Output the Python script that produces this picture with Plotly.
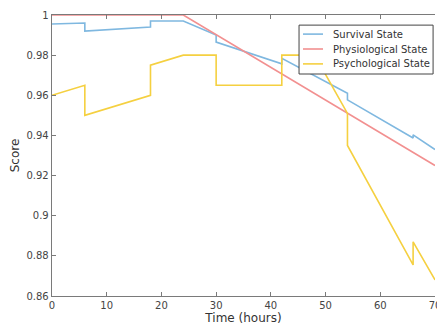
import plotly.graph_objects as go

# Data
t_survival = [0, 6, 6, 18, 18, 24, 30, 30, 42, 42, 54, 54, 66, 66, 70]
survival = [0.9955, 0.996, 0.992, 0.994, 0.997, 0.997, 0.990, 0.9865, 0.9757,
            0.9784, 0.961, 0.9577, 0.9387, 0.9403, 0.933]

t_physio = [0, 24, 70]
physio = [1.0, 1.0, 0.925]

t_psych = [0, 6, 6, 18, 18, 24, 30, 30, 42, 42, 48, 54, 54, 66, 66, 70]
psych = [0.96, 0.965, 0.95, 0.96, 0.975, 0.98, 0.98, 0.965, 0.965, 0.98,
         0.98, 0.951, 0.935, 0.8755, 0.887, 0.868]

x_ticks = [0, 10, 20, 30, 40, 50, 60, 70]
y_ticks = [0.86, 0.88, 0.90, 0.92, 0.94, 0.96, 0.98, 1.0]
y_ticktext = ["0.86", "0.88", "0.9", "0.92", "0.94", "0.96", "0.98", "1"]

series_names = ["Survival State", "Physiological State", "Psychological State"]
colors = ["#7fb8e0", "#f29090", "#f5d040"]

fig = go.Figure()
for t, v, name, c in zip([t_survival, t_physio, t_psych],
                         [survival, physio, psych], series_names, colors):
    fig.add_trace(go.Scatter(x=t, y=v, mode="lines", name=name,
                             line=dict(color=c, width=1.6), showlegend=False))

axis_common = dict(
    showgrid=False, zeroline=False, showline=True, linecolor="#7a7a7a",
    linewidth=1.3, ticks="inside", ticklen=4, tickcolor="#7a7a7a",
    automargin=False, ticklabeloverflow="allow",
    tickfont=dict(family="DejaVu Sans", size=10, color="#444"),
)

# Manual legend (compact, like the reference)
lg_x0, lg_x1, lg_y0, lg_y1 = 0.645, 0.995, 0.790, 0.964
row_y = [0.932, 0.879, 0.826]
shapes = [dict(type="rect", xref="paper", yref="paper", x0=lg_x0, x1=lg_x1,
               y0=lg_y0, y1=lg_y1, fillcolor="white",
               line=dict(color="#444", width=1), layer="above")]
annotations = []
for name, c, ry in zip(series_names, colors, row_y):
    shapes.append(dict(type="line", xref="paper", yref="paper", x0=0.6553,
                       x1=0.7076, y0=ry, y1=ry, line=dict(color=c, width=1.6),
                       layer="above"))
    annotations.append(dict(xref="paper", yref="paper", x=0.7285, y=ry,
                            xanchor="left", yanchor="middle", text=name,
                            showarrow=False,
                            font=dict(family="DejaVu Sans", size=10,
                                      color="#333")))

fig.update_layout(
    width=437, height=329,
    margin=dict(l=52, r=2, t=15, b=33),
    paper_bgcolor="white", plot_bgcolor="white",
    font=dict(family="DejaVu Sans", color="#333"),
    xaxis=dict(range=[0, 70], tickvals=x_ticks, mirror="ticks",
               title=dict(text="Time (hours)", font=dict(size=12), standoff=2),
               **axis_common),
    yaxis=dict(range=[0.86, 1.0], tickvals=y_ticks, ticktext=y_ticktext,
               title=dict(text="Score", font=dict(size=12), standoff=4),
               **axis_common),
    shapes=shapes,
    annotations=annotations,
    showlegend=False,
)

# remove the default page margin so the figure fills the window exactly
fig.write_html(
    "out.html",
    config={"displayModeBar": False, "staticPlot": True},
    post_script="document.body.style.margin='0';document.body.style.overflow='hidden';",
)
